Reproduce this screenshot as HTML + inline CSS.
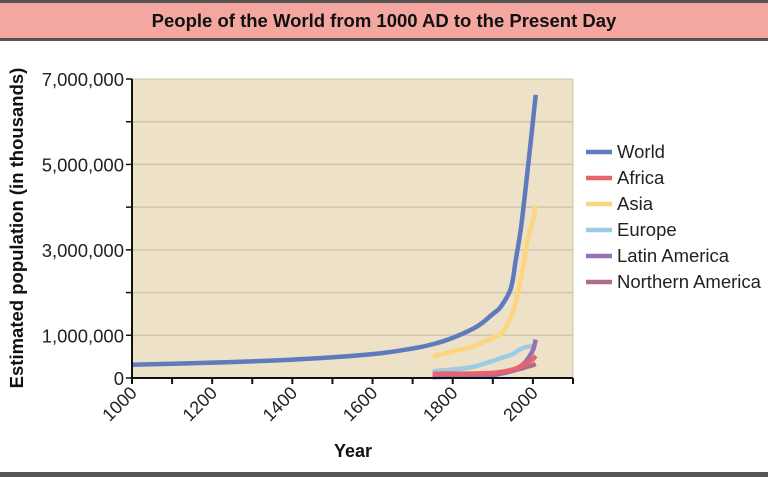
<!DOCTYPE html>
<html><head><meta charset="utf-8"><style>
html,body{margin:0;padding:0;background:#fff;}
svg{display:block;font-family:"Liberation Sans",sans-serif;}
</style></head><body>
<svg id="chart" width="768" height="477" viewBox="0 0 768 477">
<rect x="0" y="0" width="768" height="3" fill="#555"/>
<rect x="0" y="3" width="768" height="35" fill="#f4a7a0"/>
<rect x="0" y="38" width="768" height="3" fill="#555"/>
<text x="384" y="27" text-anchor="middle" font-size="18.5" font-weight="bold" fill="#111">People of the World from 1000 AD to the Present Day</text>
<rect x="0" y="472" width="768" height="5" fill="#555"/>
<rect x="132" y="79" width="441" height="299" fill="#ede1c8" stroke="#cfc4ae"/>
<g id="grid"></g><g id="series"></g><g id="axes"></g><g id="legend"></g>
<text transform="translate(23,228) rotate(-90)" text-anchor="middle" font-size="18.5" font-weight="bold" fill="#111">Estimated population (in thousands)</text>
<text x="353" y="457" text-anchor="middle" font-size="18" font-weight="bold" fill="#111">Year</text>
</svg>
<script>
const xTicks=[1000,1100,1200,1300,1400,1500,1600,1700,1800,1900,2000,2100];
const xLabels=["1000","1200","1400","1600","1800","2000"];
const yTicks=[0,1000000,2000000,3000000,4000000,5000000,6000000,7000000];
const yLabels=["0","1,000,000","3,000,000","5,000,000","7,000,000"];
const seriesNames=["World","Africa","Asia","Europe","Latin America","Northern America"];
const seriesColors=["#5f7abd","#e8636a","#fed57f","#9ccbe4","#9a6fb4","#b06c8f"];
const worldYears=[1000,1200,1400,1600,1700,1750,1800,1850,1875,1900,1920,1945,1957,1970,1982,1995,2007];
const worldVals=[310000,360000,430000,560000,690000,790000,940000,1150000,1300000,1500000,1670000,2100000,2750000,3500000,4460000,5570000,6630000];
const regYears=[1750,1800,1850,1900,1925,1950,1962,1975,1985,2000,2007];
const africaVals=[100000,102000,106000,120000,150000,200000,240000,300000,360000,440000,520000];
const asiaVals=[500000,620000,740000,940000,1080000,1550000,1970000,2550000,3150000,3700000,4040000];
const europeVals=[160000,200000,260000,400000,480000,560000,640000,700000,730000,740000,730000];
const latamVals=[40000,40000,50000,70000,110000,170000,230000,320000,420000,650000,900000];
const namVals=[20000,30000,40000,80000,120000,170000,200000,230000,260000,300000,330000];
const allVals=[worldVals,africaVals,latamVals,namVals,europeVals,asiaVals];
const allYears=[worldYears,regYears,regYears,regYears,regYears,regYears];
const drawOrder=[4,3,0,2,5,1];
const ns="http://www.w3.org/2000/svg";
const X0=132,X1=573,Y0=378,Y1=79;
function xs(y){return X0+(y-1000)/1100*(X1-X0);}
function ys(v){return Y0-v/7000000*(Y0-Y1);}
function mk(t,a,p){const e=document.createElementNS(ns,t);for(const k in a)e.setAttribute(k,a[k]);p.appendChild(e);return e;}
const grid=document.getElementById('grid'),axes=document.getElementById('axes'),ser=document.getElementById('series'),leg=document.getElementById('legend');
yTicks.forEach((v,i)=>{
 if(v>0&&v<7000000){const g=mk('line',{x1:X0,x2:X1,y1:ys(v),y2:ys(v),stroke:'#cfc4ae','stroke-width':1.5},grid);
 
 }
 const t=mk('line',{x1:X0-6,x2:X0,y1:ys(v),y2:ys(v),stroke:'#111','stroke-width':1.5},axes);
 
 
});
yLabels.forEach((s,i)=>{
 const v=i===0?0:(2*i-1)*1000000;
 const t=mk('text',{x:X0-8,y:ys(v)+7,'text-anchor':'end','font-size':18.5,fill:'#222'},axes);t.textContent=s;
 
 
});
mk('line',{x1:X0,x2:X0,y1:Y1,y2:Y0,stroke:'#111','stroke-width':2},axes);
mk('line',{x1:X0,x2:X1,y1:Y0,y2:Y0,stroke:'#111','stroke-width':2},axes);
xTicks.forEach(y=>{
 const t=mk('line',{x1:xs(y),x2:xs(y),y1:Y0,y2:Y0+6,stroke:'#111','stroke-width':2},axes);
 
 
});
xLabels.forEach(s=>{
 const x=xs(+s);
 const t=mk('text',{x:x+6,y:Y0+16,'text-anchor':'end','font-size':18,fill:'#222',transform:`rotate(-45 ${x+6} ${Y0+16})`},axes);t.textContent=s;
 
 
});
function path(yrs,vals){
 const p=yrs.map((y,i)=>[xs(y),ys(vals[i])]);
 let d=`M${p[0][0]},${p[0][1]}`;
 for(let i=0;i<p.length-1;i++){
  const p0=p[i-1]||p[i],p1=p[i],p2=p[i+1],p3=p[i+2]||p2;
  d+=` C${p1[0]+(p2[0]-p0[0])/6},${p1[1]+(p2[1]-p0[1])/6} ${p2[0]-(p3[0]-p1[0])/6},${p2[1]-(p3[1]-p1[1])/6} ${p2[0]},${p2[1]}`;
 }
 return d;
}
const idxMap=[0,1,4,5,3,2];
drawOrder.forEach(k=>{
 const ni=idxMap[k];
 const l=mk('path',{d:path(allYears[k],allVals[k]),fill:'none',stroke:seriesColors[ni],'stroke-width':4.5,'stroke-linecap':'butt','stroke-linejoin':'round'},ser);
 
 
});
const legY=[152,178,204,230,256,282];
seriesNames.forEach((n,i)=>{
 const g=mk('g',{},leg);
 
 
 mk('line',{x1:586,x2:612,y1:legY[i],y2:legY[i],stroke:seriesColors[i],'stroke-width':4.5},g);
 const t=mk('text',{x:617,y:legY[i]+6,'font-size':18.5,fill:'#222'},g);t.textContent=n;
});
</script>
</body></html>
